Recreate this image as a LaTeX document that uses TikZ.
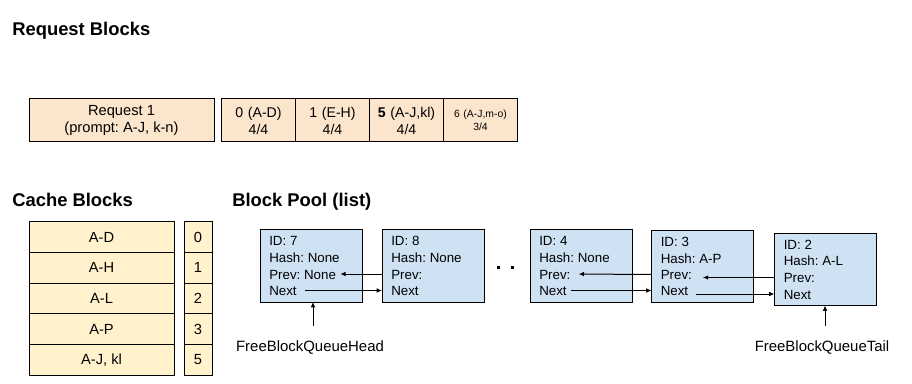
\documentclass[tikz,border=0pt]{standalone}
\usepackage{fontspec}
\setmainfont{Liberation Sans}
\usetikzlibrary{arrows.meta,calc,positioning}
\definecolor{reqfill}{HTML}{FCE5CD}
\definecolor{cachefill}{HTML}{FFF2CC}
\definecolor{poolfill}{HTML}{CFE2F3}
\frenchspacing

% one free block: box plus its four text lines
\newcommand{\poolblk}[5]{%
  \node[poolbox] (#1) at (#2) {};
  \node[poolline] (#1id)   at ($(#1.north west)+(5,11)$)   {ID: #3};
  \node[poolline] (#1hash) at ($(#1.north west)+(5,27.5)$) {Hash: #4};
  \node[poolline] (#1prev) at ($(#1.north west)+(5,44)$)   {Prev:#5};
  \node[poolline] (#1next) at ($(#1.north west)+(5,60.5)$) {Next};
}

\begin{document}
\begin{tikzpicture}[
    x=0.75pt,y=-0.75pt,>={Latex[length=4pt,width=3.5pt]},
    node distance=0pt,font=\fontsize{10}{12}\selectfont,
    title/.style={anchor=base west,inner sep=0pt,font=\fontsize{13.8}{16}\selectfont\bfseries},
    reqbox/.style={draw,line width=0.75pt,fill=reqfill,outer sep=0pt,align=center,
      minimum height=32.25pt,font=\fontsize{11}{12.75}\selectfont},
    reqcell/.style={reqbox,minimum width=55.5pt,text width=48pt,
      font=\fontsize{10.6}{12.75}\selectfont},
    cacherow/.style={draw,line width=0.75pt,fill=cachefill,outer sep=0pt,
      minimum width=108.75pt,minimum height=22.95pt,font=\fontsize{11}{13}\selectfont},
    cacheidx/.style={cacherow,minimum width=21pt},
    poolbox/.style={draw,line width=0.75pt,fill=poolfill,minimum width=76.5pt,
      minimum height=54pt,outer sep=0pt},
    poolline/.style={anchor=west,inner xsep=3pt,inner ysep=0pt,text height=7.5pt,
      text depth=0pt},
    qlabel/.style={font=\fontsize{11.2}{13}\selectfont},
    link/.style={->,line width=0.75pt}]
  \useasboundingbox (0,0) rectangle (912,384);

  % request blocks
  \node[title] (reqtitle) at (12,36) {Request Blocks};
  \node[reqbox,minimum width=138.75pt] (req) at (121.5,120.5)
    {Request 1\\(prompt: A-J, k-n)};
  \node[reqcell] (r0) at (258.5,120.5) {0 (A-D)\\4/4};
  \node[reqcell,right=of r0] (r1) {1 (E-H)\\4/4};
  \node[reqcell,right=of r1] (r5) {\textbf{5} (A-J,kl)\\4/4};
  \node[reqcell,right=of r5,font=\fontsize{7.8}{9.75}\selectfont] (r6) {6 (A-J,m-o)\\3/4};

  % cache blocks
  \node[title] (cachetitle) at (12,207) {Cache Blocks};
  \foreach \t/\k [count=\i from 0] in {A-D/0,A-H/1,A-L/2,A-P/3,{A-J, kl}/5} {
    \node[cacherow] (c\i) at (101.5,{237.3+30.6*\i}) {\t};
    \node[cacheidx] (ci\i) at (198,{237.3+30.6*\i}) {\k};
  }

  % block pool
  \node[title] (pooltitle) at (232,207) {Block Pool (list)};
  \poolblk{b7}{311,266}{7}{None}{ None}
  \poolblk{b8}{433,266}{8}{None}{}
  \poolblk{b4}{581,266}{4}{None}{}
  \poolblk{b3}{702.5,266.5}{3}{A-P}{}
  \poolblk{b2}{825.5,269.5}{2}{A-L}{}
  \fill (496.5,266.5) rectangle +(3,3);
  \fill (510.5,266.5) rectangle +(3,3);

  \draw[link] (b8.west |- b8prev) -- (b7prev.east);
  \draw[link,shorten <=3pt] (b7next.east) -- (b8.west |- b7next);
  \draw[link,shorten >=3pt] (b3.west |- b3prev) -- (b4prev.east);
  \draw[link] (b4next.east) -- (b3.west |- b4next);
  \draw[link,shorten >=5pt] (b2.west |- b2prev) -- (b2prev -| b3prev.east);
  \draw[link,shorten <=3pt] (b3next.east |- b2next) -- (b2.west |- b2next);

  \node[qlabel] (head) at (310,347) {FreeBlockQueueHead};
  \node[qlabel] (tail) at (822,347) {FreeBlockQueueTail};
  \draw[link,shorten <=7pt] ([xshift=2.25pt]head.north) -- ([xshift=2.25pt]head.north |- b7.south);
  \draw[link,shorten <=7pt] ([xshift=2.25pt]tail.north) -- ([xshift=2.25pt]tail.north |- b2.south);
\end{tikzpicture}
\end{document}
